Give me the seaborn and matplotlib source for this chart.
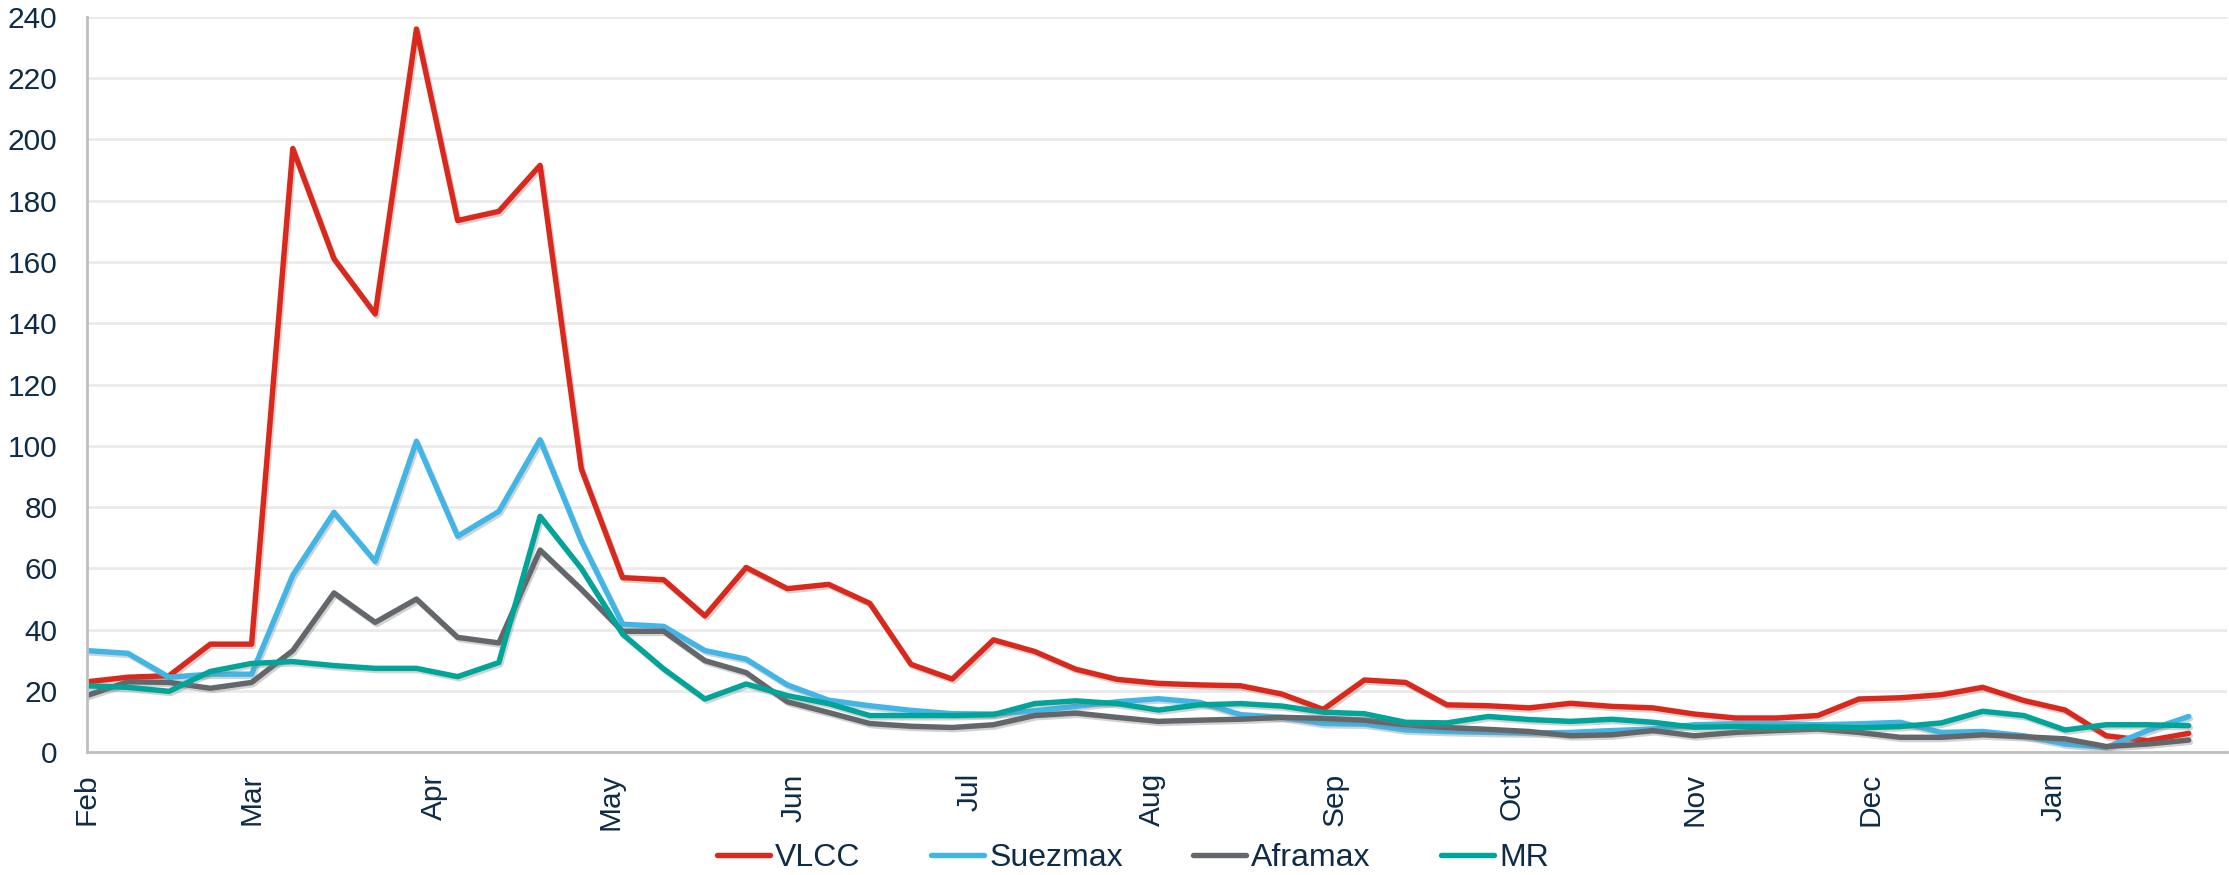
import matplotlib
matplotlib.use('Agg')
import matplotlib.pyplot as plt
import matplotlib.dates as mdates
import matplotlib.patheffects as pe
import seaborn as sns
import pandas as pd

# Weekly series, Feb 2021 -> Jan 2022
start_date = '2021-02-01'
n_weeks = 52

vlcc = [23, 24.5, 25, 35.3, 35.3, 197, 161, 143, 236, 173.5, 176.5, 191.5, 92.5,
        57, 56.3, 44.5, 60.3, 53.4, 54.8, 48.6, 28.7, 23.9, 36.7, 32.9, 27.1, 23.8,
        22.5, 22, 21.7, 19, 14, 23.6, 22.8, 15.5, 15.2, 14.5, 16, 15, 14.5, 12.5,
        11.2, 11.2, 12, 17.4, 17.8, 18.8, 21.2, 16.9, 13.8, 5.4, 3.8, 6.2]
suezmax = [33.2, 32.3, 24.5, 25.5, 25.5, 57.8, 78.3, 62.3, 101.5, 70.5, 78.6, 102, 69,
           41.8, 41.1, 33.2, 30.4, 22, 17, 15.2, 13.7, 12.6, 12.5, 13.5, 15, 16.5,
           17.5, 16.3, 12.3, 11.4, 9.4, 9.2, 7.3, 6.8, 6.5, 6.3, 6.5, 7.1, 7.6, 9,
           9.3, 9.3, 9, 9.3, 9.8, 6.5, 6.8, 5.4, 2.7, 1.6, 7.1, 11.7]
aframax = [18.5, 23, 22.8, 20.9, 22.8, 33.2, 52, 42.4, 50, 37.5, 35.7, 66, 53.2,
           39.5, 39.5, 29.9, 26, 16.5, 13, 9.4, 8.5, 8.1, 9, 12, 12.8, 11.4,
           10.1, 10.5, 10.8, 11.4, 11.1, 10.5, 9, 8.1, 7.5, 6.8, 5.4, 5.7, 7.1, 5.4,
           6.5, 7.1, 7.6, 6.5, 4.9, 4.9, 5.7, 5.1, 4.4, 1.9, 2.7, 4.0]
mr = [21.7, 21.2, 19.9, 26.4, 29, 29.6, 28.3, 27.4, 27.4, 24.7, 29.3, 77, 60,
      38.6, 27.2, 17.4, 22.3, 18.5, 15.9, 12, 12, 12, 12.3, 15.9, 16.8, 15.9,
      13.8, 15.5, 15.9, 15.1, 13.1, 12.6, 9.8, 9.6, 11.7, 10.7, 10.1, 10.8, 9.8, 8.2,
      8.4, 8.2, 8.4, 8, 8.4, 9.6, 13.4, 12, 7.3, 9, 9, 8.7]

series_names = ['VLCC', 'Suezmax', 'Aframax', 'MR']
colors = ['#DA291C', '#41B6E6', '#63666A', '#00A499']
y_ticks = list(range(0, 241, 20))

TEXT = '#0E2C47'
GRID = '#EAEAEA'
AXIS = '#BFBFBF'
LW = 3.9

dates = pd.date_range(start_date, periods=n_weeks, freq='7D')
frames = []
for name, vals in zip(series_names, [vlcc, suezmax, aframax, mr]):
    frames.append(pd.DataFrame({'date': dates, 'value': vals, 'series': name}))
df = pd.concat(frames, ignore_index=True)

sns.set_theme(style='white')
plt.rcParams['font.family'] = ['Liberation Sans', 'DejaVu Sans']

fig = plt.figure(figsize=(22.29, 8.75), dpi=100)
ax = fig.add_axes([0.0389, 0.1402, 0.9602, 0.8407])

sns.lineplot(data=df, x='date', y='value', hue='series', hue_order=series_names,
             palette=colors, estimator=None, linewidth=LW, ax=ax, legend=False)

# soft drop shadow like the office chart
shadow = [pe.SimpleLineShadow(offset=(1.2, -1.6), shadow_color='#808080', alpha=0.35),
          pe.Normal()]
for line in ax.get_lines():
    line.set_path_effects(shadow)
    line.set_solid_joinstyle('round')
    line.set_solid_capstyle('round')

ax.set_ylim(0, 240)
ax.set_yticks(y_ticks)
ax.set_xlim(pd.Timestamp('2021-02-01'), pd.Timestamp('2022-01-30 12:00'))
ax.xaxis.set_major_locator(mdates.MonthLocator())
ax.xaxis.set_major_formatter(mdates.DateFormatter('%b'))

ax.set_xlabel('')
ax.set_ylabel('')
ax.grid(axis='y', color=GRID, linewidth=2)
ax.grid(axis='x', visible=False)
ax.set_axisbelow(True)

for side in ['top', 'right']:
    ax.spines[side].set_visible(False)
for side in ['left', 'bottom']:
    ax.spines[side].set_color(AXIS)
    ax.spines[side].set_linewidth(2)

ax.tick_params(axis='y', length=0, pad=21, labelsize=21.5, labelcolor=TEXT)
ax.tick_params(axis='x', length=0, pad=15, labelsize=21.5, labelcolor=TEXT)
plt.setp(ax.get_xticklabels(), rotation=90, ha='center', va='top')

handles = [plt.Line2D([], [], color=c, linewidth=LW, solid_capstyle='round') for c in colors]
fig.legend(handles, series_names, loc='center', bbox_to_anchor=(1133 / 2229, 1 - 858 / 875),
           ncol=4, frameon=False, fontsize=23, labelcolor=TEXT,
           handlelength=1.66, handletextpad=0.16, columnspacing=2.2,
           borderpad=0, borderaxespad=0)

fig.savefig('out.png', dpi=100)
